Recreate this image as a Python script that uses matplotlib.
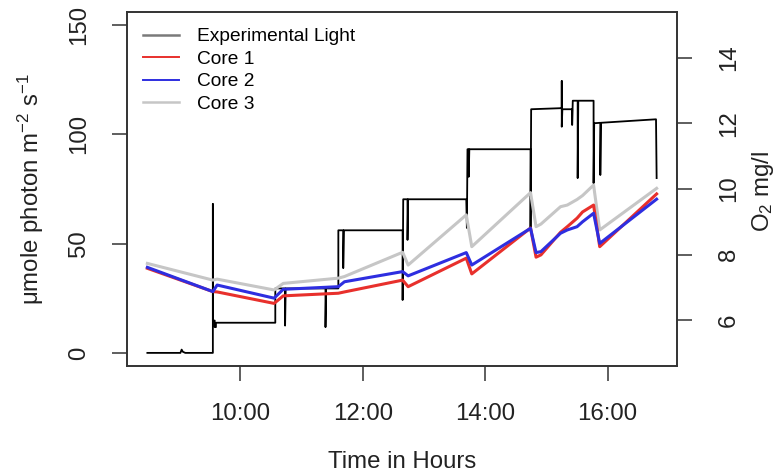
import matplotlib
matplotlib.use("Agg")
import matplotlib.pyplot as plt
from matplotlib.lines import Line2D

plt.rcParams['font.family'] = ['Liberation Sans', 'DejaVu Sans']
plt.rcParams['mathtext.fontset'] = 'custom'
plt.rcParams['mathtext.rm'] = 'Liberation Sans'
plt.rcParams['mathtext.it'] = 'Liberation Sans:italic'
plt.rcParams['mathtext.default'] = 'regular'

# Experimental light (hours of day, umol photon m-2 s-1)
light_time = [8.48, 9.02, 9.04, 9.06, 9.10, 9.55, 9.55, 9.55, 9.58, 9.58, 9.60, 9.60,
              10.57, 10.57, 10.73, 10.73, 10.74, 11.39, 11.39, 11.40,
              11.60, 11.60, 11.68, 11.68, 11.69, 12.65, 12.65, 12.66,
              12.73, 12.73, 12.74, 13.69, 13.70, 13.71, 13.73, 13.73, 13.74,
              14.74, 14.74, 14.75, 15.25, 15.25, 15.25, 15.26, 15.42, 15.42, 15.43,
              15.51, 15.51, 15.52, 15.77, 15.77, 15.78, 15.88, 15.88, 15.89, 16.79, 16.80]
light_par = [0, 0, 1.5, 0.5, 0, 0, 68.1, 14.8, 14.8, 11.8, 11.8, 13.8,
             13.8, 29.5, 29.5, 12.5, 29.5, 29.5, 11.8, 29.5,
             29.5, 56.1, 56.1, 38.8, 56.1, 56.1, 24.2, 70.3,
             70.3, 51.7, 70.3, 70.3, 57.2, 93.2, 93.2, 80.6, 93.2,
             93.2, 57.2, 111.5, 112.0, 124.4, 103.5, 111.5, 111.5, 104.3, 115.4,
             115.4, 80.0, 115.4, 115.4, 77.7, 105.1, 105.3, 81.4, 105.3, 106.9, 80.0]

# Dissolved oxygen in the three cores (mg/l)
core_time = [8.48, 9.55, 9.62, 10.55, 10.70, 11.60, 11.70, 12.65, 12.74, 13.69, 13.78,
             14.74, 14.83, 14.91, 15.23, 15.34, 15.50, 15.59, 15.77, 15.87, 16.80]
core1 = [7.58, 6.87, 6.86, 6.51, 6.74, 6.82, 6.86, 7.22, 7.02, 7.89, 7.41,
         8.81, 7.92, 7.99, 8.68, 8.85, 9.11, 9.30, 9.51, 8.24, 9.85]
core2 = [7.61, 6.87, 7.07, 6.67, 6.94, 7.02, 7.17, 7.48, 7.35, 8.06, 7.68,
         8.80, 8.06, 8.09, 8.65, 8.75, 8.85, 9.00, 9.26, 8.34, 9.69]
core3 = [7.73, 7.22, 7.25, 6.92, 7.12, 7.28, 7.33, 8.07, 7.68, 9.21, 8.24,
         9.89, 8.85, 8.93, 9.46, 9.51, 9.68, 9.80, 10.12, 8.75, 10.02]

hour_ticks = [10, 12, 14, 16]
hour_labels = ["10:00", "12:00", "14:00", "16:00"]
par_ticks = [0, 50, 100, 150]
o2_ticks = [6, 8, 10, 12, 14]

W, H = 779, 473
fig = plt.figure(figsize=(W / 100, H / 100), dpi=100)
ax = fig.add_axes([127 / W, 1 - 366 / H, 550 / W, 354 / H])
ax2 = ax.twinx()

edge = '#333333'
fs = 17.3

ax.plot(light_time, light_par, color='black', lw=1.3, zorder=2)
l1, = ax2.plot(core_time, core1, color='#e8302c', lw=2.2, zorder=2)
l2, = ax2.plot(core_time, core2, color='#2e2ee0', lw=2.2, zorder=3)
l3, = ax2.plot(core_time, core3, color='#c6c6c6', lw=2.2, zorder=1)

tmin, tmax = min(light_time), max(light_time)
pad = 0.04 * (tmax - tmin)
ax.set_xlim(tmin - pad, tmax + pad)
ax.set_ylim(-6, 156)
ax2.set_ylim(4.6, 15.4)

ax.set_xticks(hour_ticks)
ax.set_xticklabels(hour_labels)
ax.set_yticks(par_ticks)
ax2.set_yticks(o2_ticks)

for a in (ax, ax2):
    for s in a.spines.values():
        s.set_color(edge)
        s.set_linewidth(1.2)

ax.tick_params(axis='x', length=10.8, width=1.1, color=edge, labelsize=fs,
               labelcolor='#222222', pad=16)
ax.tick_params(axis='y', length=10.8, width=1.1, color=edge, labelsize=fs,
               labelcolor='#222222', pad=15.5, labelrotation=90)
for t in ax.get_yticklabels():
    t.set_va('center')
ax2.tick_params(axis='y', length=10.8, width=1.1, color=edge, labelsize=fs,
                labelcolor='#222222', pad=18.5, labelrotation=90)
for t in ax2.get_yticklabels():
    t.set_va('center')

fig.text(0.5 * (127 + 677) / W, 1 - 468 / H, "Time in Hours", fontsize=fs,
         color='#222222', ha='center', va='baseline')
fig.text(39 / W, 1 - 189 / H, r"$\mu$mole photon m$^{-2}$ s$^{-1}$", fontsize=fs,
         color='#222222', rotation=90, rotation_mode='anchor', ha='center', va='baseline')
fig.text(769 / W, 1 - 191 / H, r"O$_2$ mg/l", fontsize=fs,
         color='#222222', rotation=90, rotation_mode='anchor', ha='center', va='baseline')

handles = [Line2D([], [], color='#7a7a7a', lw=1.8),
           Line2D([], [], color='#e8302c', lw=1.4),
           Line2D([], [], color='#2e2ee0', lw=1.4),
           Line2D([], [], color='#c6c6c6', lw=1.8)]
labels = ["Experimental Light", "Core 1", "Core 2", "Core 3"]
ax2.legend(handles, labels, loc='upper left', bbox_to_anchor=(143 / W, 1 - 28 / H),
           bbox_transform=fig.transFigure, frameon=False, fontsize=13.8,
           handlelength=1.875, handletextpad=0.94, labelspacing=0.26,
           borderpad=0, borderaxespad=0)

fig.savefig("out.png", dpi=100)
